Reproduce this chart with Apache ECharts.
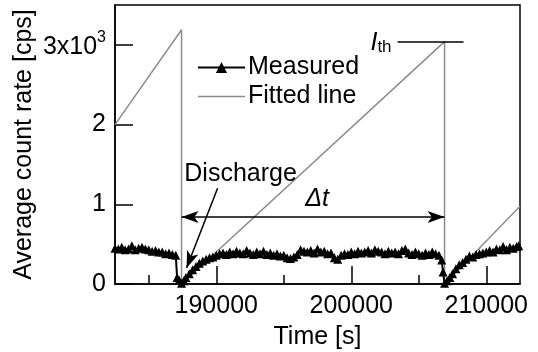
<!DOCTYPE html>
<html>
<head>
<meta charset="utf-8">
<script src="https://cdn.jsdelivr.net/npm/echarts@6/dist/echarts.min.js"></script>
<style>html,body{margin:0;padding:0;background:#fff}#c{width:538px;height:352px}</style>
</head>
<body>
<div id="c"></div>
<script>
// Measured average count rate [cps] vs time [s]
const measTime = [182500,182750,183000,183250,183500,183750,184000,184250,184500,184750,
185000,185250,185500,185750,186000,186250,186500,186750,187000,187100,187250,187430,
187600,187750,188000,188250,188500,188750,189000,189250,189500,189750,
190000,190250,190500,190750,191000,191250,191500,191750,192000,192250,192500,192750,
193000,193250,193500,193750,194000,194250,194500,194750,195000,195250,195500,195750,
196000,196250,196500,196750,197000,197250,197500,197750,198000,198250,198500,198750,
199000,199250,199500,199750,200000,200250,200500,200750,201000,201250,201500,201750,
202000,202250,202500,202750,203000,203250,203500,203750,204000,204250,204500,204750,
205000,205250,205500,205750,206000,206250,206500,206700,206800,206911,
207100,207300,207500,207750,208000,208250,208500,208750,209000,209250,209500,209750,
210000,210250,210500,210750,211000,211250,211500,211750,212000,212250,212400];
const measRate = [450,440,460,430,440,480,430,450,460,440,
430,410,420,400,400,380,390,370,360,80,50,10,
40,80,130,180,220,260,290,310,330,340,
360,380,390,370,400,380,410,390,380,420,390,370,
400,380,410,370,390,360,380,350,360,330,320,340,
370,430,410,400,420,390,440,400,410,380,390,330,
310,360,380,370,400,380,410,390,400,420,390,430,
410,400,380,410,390,400,380,420,440,390,370,400,
380,360,390,370,400,380,360,300,150,10,
40,80,130,190,240,270,310,350,340,370,380,390,
400,420,400,440,430,470,430,460,450,470,480];
// Fitted line (saw-tooth)
const fitTime = [182500,187430,187430,206911,206911,212500];
const fitRate = [2000,3190,0,3040,0,975];
// Axis ticks
const xMajorTicks = [190000,200000,210000];
const xMinorTicks = [185000,195000,205000];
const yTicks = [0,1000,2000,3000];
const yTickLabels = {0:'0',1000:'1',2000:'2',3000:'{a|3x10}{s|3}'};
// Annotation anchors (data coordinates)
const dischargeLabelAt = [191800,1380];
const dischargeArrow = [[190100,1200],[187800,200]];
const deltaT = [[187430,840],[206911,840]];
const ithLine = [[203430,3040],[208320,3040]];

const FONT = 'Liberation Sans, Arial, sans-serif';
const FS = 25;
const chart = echarts.init(document.getElementById('c'), null, {renderer:'canvas'});
const measData = measTime.map((t,i)=>[t,measRate[i]]);
const fitData = fitTime.map((t,i)=>[t,fitRate[i]]);

const blackLine = {color:'#000', width:1.5, type:'solid'};
chart.setOption({
  animation:false,
  textStyle:{fontFamily:FONT},
  grid:{left:115,right:18,top:5,bottom:68,show:true,borderColor:'#000',borderWidth:1.5,
        backgroundColor:'transparent',containLabel:false,outerBoundsMode:'none'},
  legend:{
    orient:'vertical', left:192, top:50, itemWidth:47, itemHeight:14, itemGap:4,
    textStyle:{fontSize:FS,color:'#000',fontFamily:FONT,padding:[0,0,0,-2]},
    data:[{name:'Measured'},{name:'Fitted line',icon:'path://M0,0h48v1.5h-48z'}]
  },
  xAxis:[{
    type:'value', min:182500, max:212500,
    axisLine:{lineStyle:{color:'#000',width:1.5}},
    axisTick:{inside:true,length:18,lineStyle:{color:'#000',width:1.5},customValues:xMajorTicks},
    axisLabel:{customValues:xMajorTicks,fontSize:FS,color:'#000',margin:10,fontFamily:FONT,formatter:v=>String(v)},
    splitLine:{show:false},
    name:'Time [s]', nameLocation:'middle', nameGap:41, nameMoveOverlap:false,
    nameTextStyle:{fontSize:FS,color:'#000',fontFamily:FONT}
  },{
    type:'value', min:182500, max:212500, position:'bottom',
    axisLine:{show:false},
    axisTick:{inside:true,length:9,lineStyle:{color:'#000',width:1.5},customValues:xMinorTicks},
    axisLabel:{show:false}, splitLine:{show:false}
  }],
  yAxis:{
    type:'value', min:0, max:3500,
    axisLine:{lineStyle:{color:'#000',width:1.5}},
    axisTick:{inside:true,length:18,lineStyle:{color:'#000',width:1.5},customValues:yTicks},
    axisLabel:{
      customValues:yTicks, margin:9, color:'#000', fontSize:FS, fontFamily:FONT,
      formatter:v=>yTickLabels[v],
      rich:{a:{fontSize:FS,color:'#000',fontFamily:FONT,lineHeight:30,verticalAlign:'bottom'},
            s:{fontSize:16,color:'#000',fontFamily:FONT,lineHeight:30,verticalAlign:'top'}}
    },
    splitLine:{show:false},
    name:'Average count rate [cps]', nameLocation:'middle', nameGap:78, nameMoveOverlap:false,
    nameTextStyle:{fontSize:FS,color:'#000',fontFamily:FONT}
  },
  series:[{
    name:'Measured', type:'line', data:measData,
    symbol:'triangle', symbolSize:9, showAllSymbol:true,
    lineStyle:{color:'#000',width:2}, itemStyle:{color:'#000'},
    z:3,
    markLine:{
      silent:true, animation:false, symbol:['arrow','arrow'], symbolSize:[9,17],
      lineStyle:blackLine,
      data:[
        [{coord:deltaT[0]},{coord:deltaT[1],
          label:{show:true,position:'middle',formatter:'Δt',fontSize:FS,fontStyle:'italic',color:'#000',
                 backgroundColor:'#fff',padding:[0,5,0,13],fontFamily:FONT}}],
        [{coord:dischargeArrow[0],symbol:'none'},{coord:dischargeArrow[1],symbol:'arrow',label:{show:false}}],
        [{coord:ithLine[0],symbol:'none'},{coord:ithLine[1],symbol:'none',
          label:{show:true,position:'start',distance:6,formatter:'{i|I}{t|th}',
            rich:{i:{fontSize:FS,fontStyle:'italic',color:'#000',fontFamily:FONT,lineHeight:28,verticalAlign:'bottom'},
                  t:{fontSize:17,color:'#000',fontFamily:FONT,lineHeight:23,verticalAlign:'bottom'}}}}]
      ]
    },
    markPoint:{
      silent:true, symbol:'circle', symbolSize:0,
      data:[{coord:dischargeLabelAt,label:{show:true,position:'inside',formatter:'Discharge',fontSize:FS,color:'#000',fontFamily:FONT}}]
    }
  },{
    name:'Fitted line', type:'line', data:fitData, symbol:'none',
    lineStyle:{color:'#8c8c8c',width:1.5}, itemStyle:{color:'#8c8c8c'}, z:2
  }]
});
</script>
</body>
</html>
